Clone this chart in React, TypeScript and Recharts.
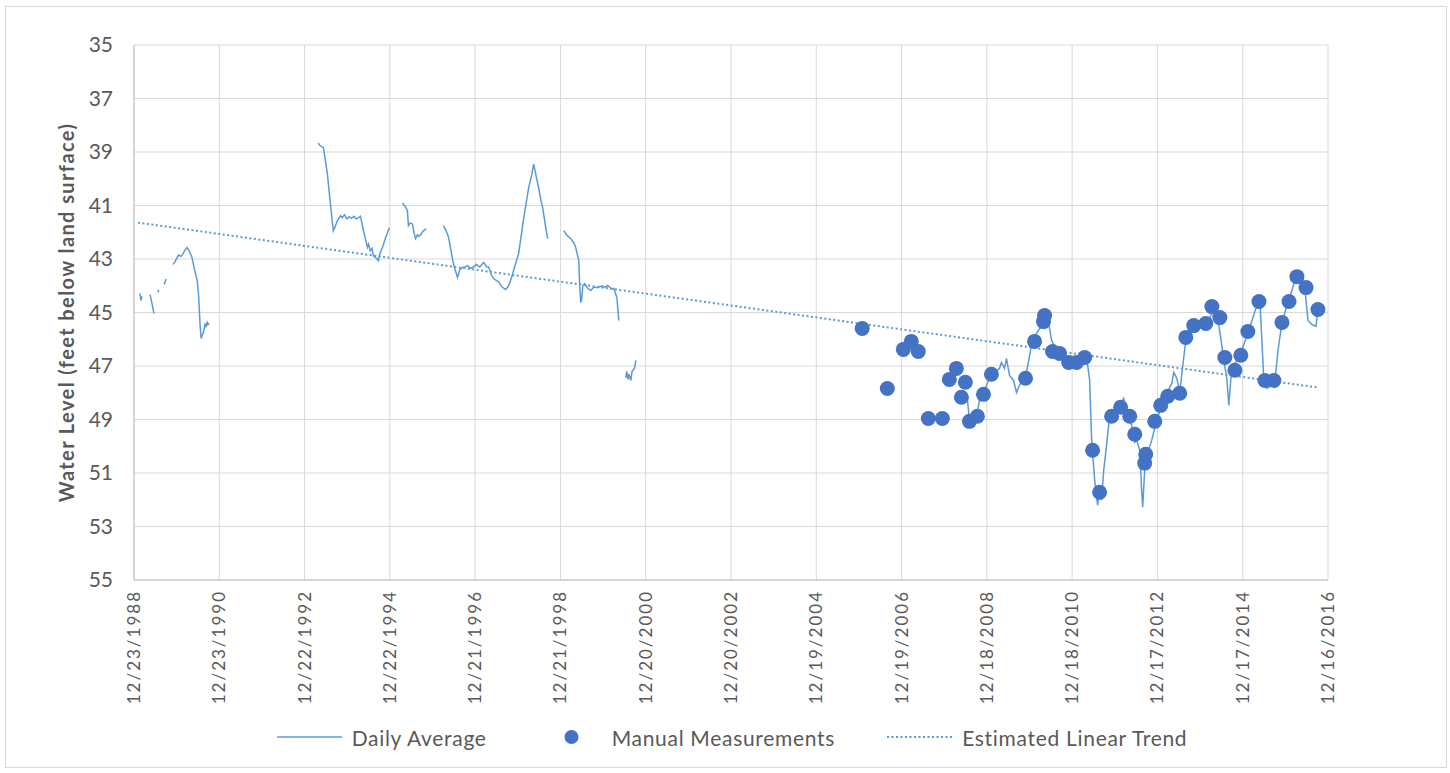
import { ComposedChart, Line, Scatter, XAxis, YAxis, CartesianGrid, Legend } from 'recharts';

// x values are days since 12/23/1988, y values are feet below land surface
const xTicks = [0, 730, 1460, 2190, 2920, 3650, 4380, 5110, 5840, 6570, 7300, 8030, 8760, 9490, 10220];
const xTickLabels = [
  '12/23/1988', '12/23/1990', '12/22/1992', '12/22/1994', '12/21/1996', '12/21/1998', '12/20/2000',
  '12/20/2002', '12/19/2004', '12/19/2006', '12/18/2008', '12/18/2010', '12/17/2012', '12/17/2014', '12/16/2016',
];
const yTicks = [35, 37, 39, 41, 43, 45, 47, 49, 51, 53, 55];

type Pt = [number, number];

const seg1989a: Pt[] = [[51, 44.29], [60, 44.55], [68, 44.4]];
const seg1989b: Pt[] = [[137, 44.33], [151, 44.6], [171, 45.04]];
const seg1989c: Pt[] = [[205, 44.25], [211, 44.15]];
const seg1989d: Pt[] = [[258, 43.95], [275, 43.75]];
const seg1989e: Pt[] = [
  [334, 43.2], [352, 43.1], [368, 42.95], [382, 42.85], [403, 42.9], [420, 42.8], [438, 42.65], [454, 42.57],
  [473, 42.7], [497, 42.95], [518, 43.4], [541, 43.8], [552, 44.3], [558, 44.8], [566, 45.5], [575, 45.97],
  [583, 45.86], [594, 45.75], [609, 45.41], [616, 45.55], [626, 45.37], [634, 45.45], [643, 45.4],
];
const seg1992: Pt[] = [
  [1577, 38.66], [1590, 38.75], [1621, 38.84], [1641, 39.4], [1655, 39.81], [1681, 40.93], [1706, 41.94],
  [1721, 41.8], [1740, 41.57], [1767, 41.38], [1782, 41.45], [1802, 41.35], [1822, 41.5], [1842, 41.42],
  [1862, 41.48], [1882, 41.4], [1902, 41.5], [1923, 41.45], [1938, 41.4], [1964, 41.94], [1998, 42.57],
  [2008, 42.45], [2023, 42.69], [2038, 42.6], [2049, 42.88], [2069, 42.95], [2092, 43.06], [2104, 42.8],
  [2126, 42.57], [2154, 42.2], [2186, 41.83],
];
const seg1994: Pt[] = [
  [2298, 40.9], [2315, 41.0], [2340, 41.19], [2349, 41.75], [2365, 41.65], [2384, 41.7], [2396, 42.0],
  [2410, 42.24], [2426, 42.1], [2436, 42.15], [2452, 42.1], [2476, 41.95], [2503, 41.87],
];
const seg1995: Pt[] = [
  [2649, 41.75], [2672, 41.95], [2693, 42.2], [2718, 42.8], [2735, 43.2], [2769, 43.69], [2788, 43.4],
  [2812, 43.32], [2833, 43.3], [2856, 43.25], [2879, 43.35], [2907, 43.3], [2929, 43.2], [2959, 43.3],
  [2993, 43.13], [3020, 43.3], [3035, 43.3], [3060, 43.6], [3078, 43.73], [3100, 43.8], [3121, 43.85],
  [3151, 44.05], [3181, 44.14], [3207, 44.0], [3231, 43.7], [3249, 43.43], [3271, 43.1], [3292, 42.8],
  [3312, 42.2], [3336, 41.46], [3357, 40.9], [3378, 40.34], [3402, 39.9], [3421, 39.45], [3442, 39.9],
  [3464, 40.34], [3483, 40.8], [3498, 41.08], [3524, 41.83], [3541, 42.24],
];
const seg1998: Pt[] = [
  [3678, 41.94], [3704, 42.1], [3738, 42.24], [3765, 42.4], [3781, 42.57], [3807, 43.05], [3815, 44.0],
  [3824, 44.63], [3833, 44.5], [3841, 44.0], [3858, 43.92], [3885, 44.1], [3910, 44.18], [3936, 44.05],
  [3970, 44.07], [4006, 44.0], [4026, 44.05], [4055, 43.99], [4082, 44.1], [4107, 44.1], [4133, 44.44],
  [4142, 44.9], [4150, 45.3],
];
const seg1999: Pt[] = [
  [4209, 47.43], [4218, 47.2], [4228, 47.5], [4236, 47.3], [4253, 47.54], [4263, 47.2], [4270, 47.16],
  [4283, 47.1], [4296, 46.79],
];
const seg2008: Pt[] = [
  [7134, 48.28], [7151, 49.03], [7187, 49.0], [7211, 48.96], [7236, 48.28], [7271, 47.99], [7322, 47.46],
  [7356, 47.24], [7408, 47.09], [7425, 46.87], [7451, 47.09], [7468, 46.72], [7494, 47.35], [7528, 47.54],
  [7554, 47.99], [7579, 47.72], [7614, 47.46], [7639, 47.24], [7682, 46.23], [7725, 45.78], [7768, 45.49],
  [7794, 45.22], [7828, 45.37], [7854, 46.04], [7897, 46.42], [7957, 46.6], [8025, 46.79], [8094, 46.72],
  [8154, 46.68], [8180, 47.54], [8197, 49.78], [8223, 51.27], [8248, 52.2], [8265, 51.64], [8282, 52.01],
  [8300, 50.9], [8325, 49.96], [8351, 48.84], [8385, 48.73], [8437, 48.47], [8471, 48.21], [8497, 48.84],
  [8540, 49.22], [8566, 49.85], [8583, 49.78], [8608, 50.15], [8625, 51.64], [8634, 52.28], [8651, 50.9],
  [8668, 50.34], [8711, 49.78], [8754, 49.03], [8797, 48.47], [8840, 48.02], [8883, 47.65], [8900, 47.24],
  [8926, 47.46], [8951, 47.99], [8977, 46.98], [9003, 46.04], [9037, 45.6], [9097, 45.49], [9183, 45.37],
  [9243, 44.93], [9277, 45.22], [9311, 46.23], [9328, 46.79], [9354, 47.46], [9371, 48.47], [9389, 47.46],
  [9414, 46.98], [9466, 46.6], [9517, 45.98], [9569, 45.3], [9611, 44.74], [9637, 44.55], [9654, 46.04],
  [9671, 47.54], [9697, 47.84], [9740, 47.72], [9766, 47.54], [9792, 46.42], [9826, 45.37], [9869, 44.74],
  [9911, 44.18], [9946, 43.66], [9980, 43.81], [10023, 44.18], [10049, 45.3], [10083, 45.45], [10117, 45.52],
  [10134, 44.9],
];

const manualDays = [
  6233, 6448, 6585, 6653, 6713, 6799, 6919, 6979, 7039, 7082, 7116, 7151, 7219, 7271, 7339, 7631, 7708,
  7785, 7794, 7862, 7922, 8000, 8068, 8137, 8205, 8265, 8368, 8445, 8523, 8566, 8651, 8660, 8737, 8788,
  8848, 8951, 9003, 9071, 9174, 9226, 9294, 9337, 9423, 9474, 9534, 9629, 9680, 9757, 9826, 9886, 9954,
  10032, 10134,
];
const manualLevels = [
  45.6, 47.84, 46.38, 46.08, 46.46, 48.96, 48.96, 47.5, 47.09, 48.17, 47.61, 49.07, 48.88, 48.06, 47.31,
  47.46, 46.08, 45.34, 45.11, 46.46, 46.53, 46.87, 46.87, 46.68, 50.15, 51.72, 48.88, 48.54, 48.88, 49.55,
  50.63, 50.3, 49.07, 48.47, 48.13, 48.02, 45.93, 45.49, 45.41, 44.78, 45.19, 46.68, 47.16, 46.6, 45.71,
  44.59, 47.54, 47.54, 45.37, 44.59, 43.66, 44.07, 44.89,
];

const trendDays = [34, 10126];
const trendLevels = [41.64, 47.8];

const dailySegments = [seg1989a, seg1989b, seg1989c, seg1989d, seg1989e, seg1992, seg1994, seg1995, seg1998, seg1999, seg2008];
const dailyData = dailySegments.flatMap((seg) => [
  ...seg.map(([day, level]) => ({ day, level })),
  { day: seg[seg.length - 1][0] + 1, level: null },
]);
const manualData = manualDays.map((day, i) => ({ day, level: manualLevels[i] }));
const trendData = trendDays.map((day, i) => ({ day, level: trendLevels[i] }));

const FONT = 'Lato, "Open Sans", sans-serif';
const TEXT = '#595959';

function DateTick({ x, y, payload }: any) {
  const label = xTickLabels[xTicks.indexOf(payload.value)] ?? '';
  return (
    <text
      x={x}
      y={y}
      dy="0.35em"
      transform={`rotate(-90, ${x}, ${y})`}
      textAnchor="end"
      fill={TEXT}
      fontSize={17}
      letterSpacing={2}
      fontFamily={FONT}
    >
      {label}
    </text>
  );
}

function LegendBox() {
  const item = { display: 'flex', alignItems: 'center' } as const;
  return (
    <div style={{ display: 'flex', justifyContent: 'center', alignItems: 'center', fontFamily: FONT, fontSize: 21, letterSpacing: 0.7, color: TEXT, paddingLeft: 12, height: 28 }}>
      <div style={item}>
        <svg width={65} height={14}><line x1={0} y1={7} x2={65} y2={7} stroke="#5b9bd5" strokeWidth={1.5} /></svg>
        <span style={{ marginLeft: 10 }}>Daily Average</span>
      </div>
      <div style={{ ...item, marginLeft: 52 }}>
        <svg width={65} height={16}><circle cx={32.5} cy={8} r={7} fill="#4472c4" /></svg>
        <span style={{ marginLeft: 8 }}>Manual Measurements</span>
      </div>
      <div style={{ ...item, marginLeft: 52 }}>
        <svg width={65} height={14}><line x1={0} y1={7} x2={65} y2={7} stroke="#5b9bd5" strokeWidth={2} strokeDasharray="2 2.5" /></svg>
        <span style={{ marginLeft: 10 }}>Estimated Linear Trend</span>
      </div>
    </div>
  );
}

export default function App() {
  return (
    <div style={{ position: 'absolute', left: 5, top: 6, width: 1440, height: 760, border: '1px solid #d9d9d9', background: '#fff' }}>
      <ComposedChart width={1440} height={760} margin={{ top: 38, right: 118, bottom: 16, left: 56 }}>
        <CartesianGrid stroke="#d9d9d9" strokeWidth={1} />
        <XAxis
          type="number"
          dataKey="day"
          domain={[0, 10220]}
          ticks={xTicks}
          interval={0}
          tickLine={false}
          tickSize={0}
          tickMargin={10}
          axisLine={{ stroke: '#bfbfbf' }}
          height={143}
          tick={<DateTick />}
          allowDataOverflow
        />
        <YAxis
          type="number"
          domain={[35, 55]}
          reversed
          ticks={yTicks}
          interval={0}
          width={72}
          tickLine={false}
          tickSize={0}
          tickMargin={21}
          axisLine={{ stroke: '#bfbfbf' }}
          tick={{ fill: TEXT, fontSize: 21, fontFamily: FONT }}
          label={{
            value: 'Water Level (feet below land surface)',
            angle: -90,
            position: 'insideLeft',
            style: { textAnchor: 'middle', fill: TEXT, fontSize: 20, fontWeight: 'bold', fontFamily: FONT, letterSpacing: 1.4 },
          }}
        />
        <Legend verticalAlign="bottom" height={28} content={<LegendBox />} wrapperStyle={{ left: 0, width: 1440 }} />
        <Line
          data={dailyData}
          dataKey="level"
          name="Daily Average"
          stroke="#5b9bd5"
          strokeWidth={1.5}
          dot={false}
          activeDot={false}
          connectNulls={false}
          isAnimationActive={false}
        />
        <Scatter
          data={manualData}
          dataKey="level"
          name="Manual Measurements"
          fill="#4472c4"
          shape={(p: any) => <circle cx={p.cx} cy={p.cy} r={7.5} fill="#4472c4" />}
          isAnimationActive={false}
        />
        <Line
          data={trendData}
          dataKey="level"
          name="Estimated Linear Trend"
          stroke="#5b9bd5"
          strokeWidth={2}
          strokeDasharray="2 2.5"
          dot={false}
          activeDot={false}
          isAnimationActive={false}
        />
      </ComposedChart>
    </div>
  );
}
